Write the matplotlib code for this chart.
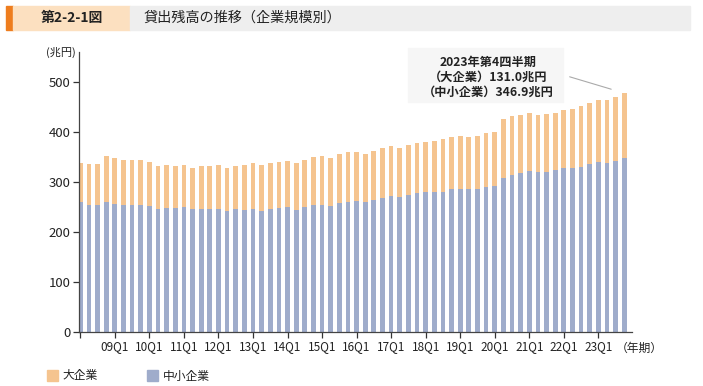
import matplotlib
matplotlib.use("Agg")
import matplotlib.pyplot as plt
from matplotlib.patches import Rectangle
import numpy as np

plt.rcParams['font.family'] = ['Noto Sans CJK JP', 'DejaVu Sans']

# Quarters 2008Q1 .. 2023Q4
years = list(range(2008, 2024))
quarters = [f"{y % 100:02d}Q{q}" for y in years for q in range(1, 5)]

# 中小企業 (SMEs), trillion yen
sme = [259, 253, 253, 259, 256, 253, 253, 253, 251, 246, 247, 247, 249, 245, 246, 246,
       246, 242, 245, 243, 246, 241, 245, 247, 249, 243, 249, 253, 254, 251, 257, 260,
       261, 259, 263, 267, 271, 269, 273, 277, 280, 279, 280, 285, 286, 285, 286, 290,
       291, 307, 313, 317, 321, 319, 319, 323, 327, 327, 330, 335, 339, 338, 342, 346.9]
# 大企業 (large firms), trillion yen
large = [78, 82, 82, 92, 91, 90, 90, 90, 88, 86, 86, 85, 84, 83, 86, 86,
         87, 86, 86, 90, 91, 92, 92, 93, 93, 95, 94, 96, 97, 96, 98, 99,
         99, 97, 98, 100, 100, 98, 101, 100, 99, 102, 105, 104, 105, 104, 105, 107,
         108, 119, 118, 117, 116, 114, 116, 115, 116, 118, 121, 123, 124, 125, 127, 131.0]

yticks = [0, 100, 200, 300, 400, 500]

c_large = '#F5C48F'
c_sme = '#9FACCB'

W, H = 703, 386
fig = plt.figure(figsize=(W / 100, H / 100), dpi=100)

def fx(px):
    return px / W

def fy(py):
    return 1 - py / H

# Title banner
fig.patches.append(Rectangle((fx(6), fy(30)), fx(7), (30 - 6) / H, transform=fig.transFigure,
                             color='#EE7D1E', zorder=0))
fig.patches.append(Rectangle((fx(13), fy(30)), fx(117), (30 - 6) / H, transform=fig.transFigure,
                             color='#FCE0C0', zorder=0))
fig.patches.append(Rectangle((fx(130), fy(30)), fx(560), (30 - 6) / H, transform=fig.transFigure,
                             color='#EEEEEE', zorder=0))
fig.text(fx(72), fy(18), '第2-2-1図', ha='center', va='center', fontsize=10,
         fontweight='bold', color='#222222')
fig.text(fx(143), fy(18), '貸出残高の推移（企業規模別）', ha='left', va='center', fontsize=10.2,
         color='#222222')

ax = fig.add_axes([fx(79), fy(331.7), fx(632 - 79), (331.7 - 52) / H])
x = np.arange(len(quarters))
ax.bar(x, sme, width=0.55, color=c_sme, zorder=2)
ax.bar(x, large, width=0.55, bottom=sme, color=c_large, zorder=2)

ax.set_xlim(-0.15, 63.9)
ax.set_ylim(0, 560)
ax.set_yticks(yticks)
ax.set_yticklabels([str(v) for v in yticks], fontsize=9.5, color='#222222')
tick_idx = list(range(0, len(quarters), 4))
ax.set_xticks(tick_idx)
ax.set_xticklabels(['' if i == 0 else quarters[i] for i in tick_idx], fontsize=8.5, color='#222222')
ax.tick_params(axis='both', length=4, width=0.9, color='#333333', pad=2)
for s in ['top', 'right']:
    ax.spines[s].set_visible(False)
for s in ['left', 'bottom']:
    ax.spines[s].set_color('#444444')
    ax.spines[s].set_linewidth(0.9)

fig.text(fx(61), fy(52), '(兆円)', ha='center', va='center', fontsize=8, color='#222222')
fig.text(fx(616), fy(348), '（年期）', ha='left', va='center', fontsize=8.5, color='#222222')

# Annotation
fig.patches.append(Rectangle((fx(408), fy(102)), fx(563 - 408), (102 - 48) / H,
                             transform=fig.transFigure, color='#F6F6F6', zorder=1))
fig.text(fx(488), fy(77), '2023年第4四半期\n（大企業）131.0兆円\n（中小企業）346.9兆円',
         ha='center', va='center', fontsize=8.8, fontweight='bold', color='#222222',
         linespacing=1.2, zorder=3)
last = len(quarters) - 1
ax.annotate('', xy=(last - 1.2, sme[last] + large[last] + 6), xycoords='data',
            xytext=(fx(567), fy(76)), textcoords='figure fraction',
            arrowprops=dict(arrowstyle='-', color='#AAAAAA', lw=0.8), annotation_clip=False)

# Legend
fig.patches.append(Rectangle((fx(47), fy(381)), fx(11), 11 / H, transform=fig.transFigure,
                             color=c_large))
fig.text(fx(62), fy(376), '大企業', ha='left', va='center', fontsize=8.5, color='#222222')
fig.patches.append(Rectangle((fx(147), fy(381)), fx(11), 11 / H, transform=fig.transFigure,
                             color=c_sme))
fig.text(fx(163), fy(376), '中小企業', ha='left', va='center', fontsize=8.5, color='#222222')

fig.savefig('out.png', dpi=100)
